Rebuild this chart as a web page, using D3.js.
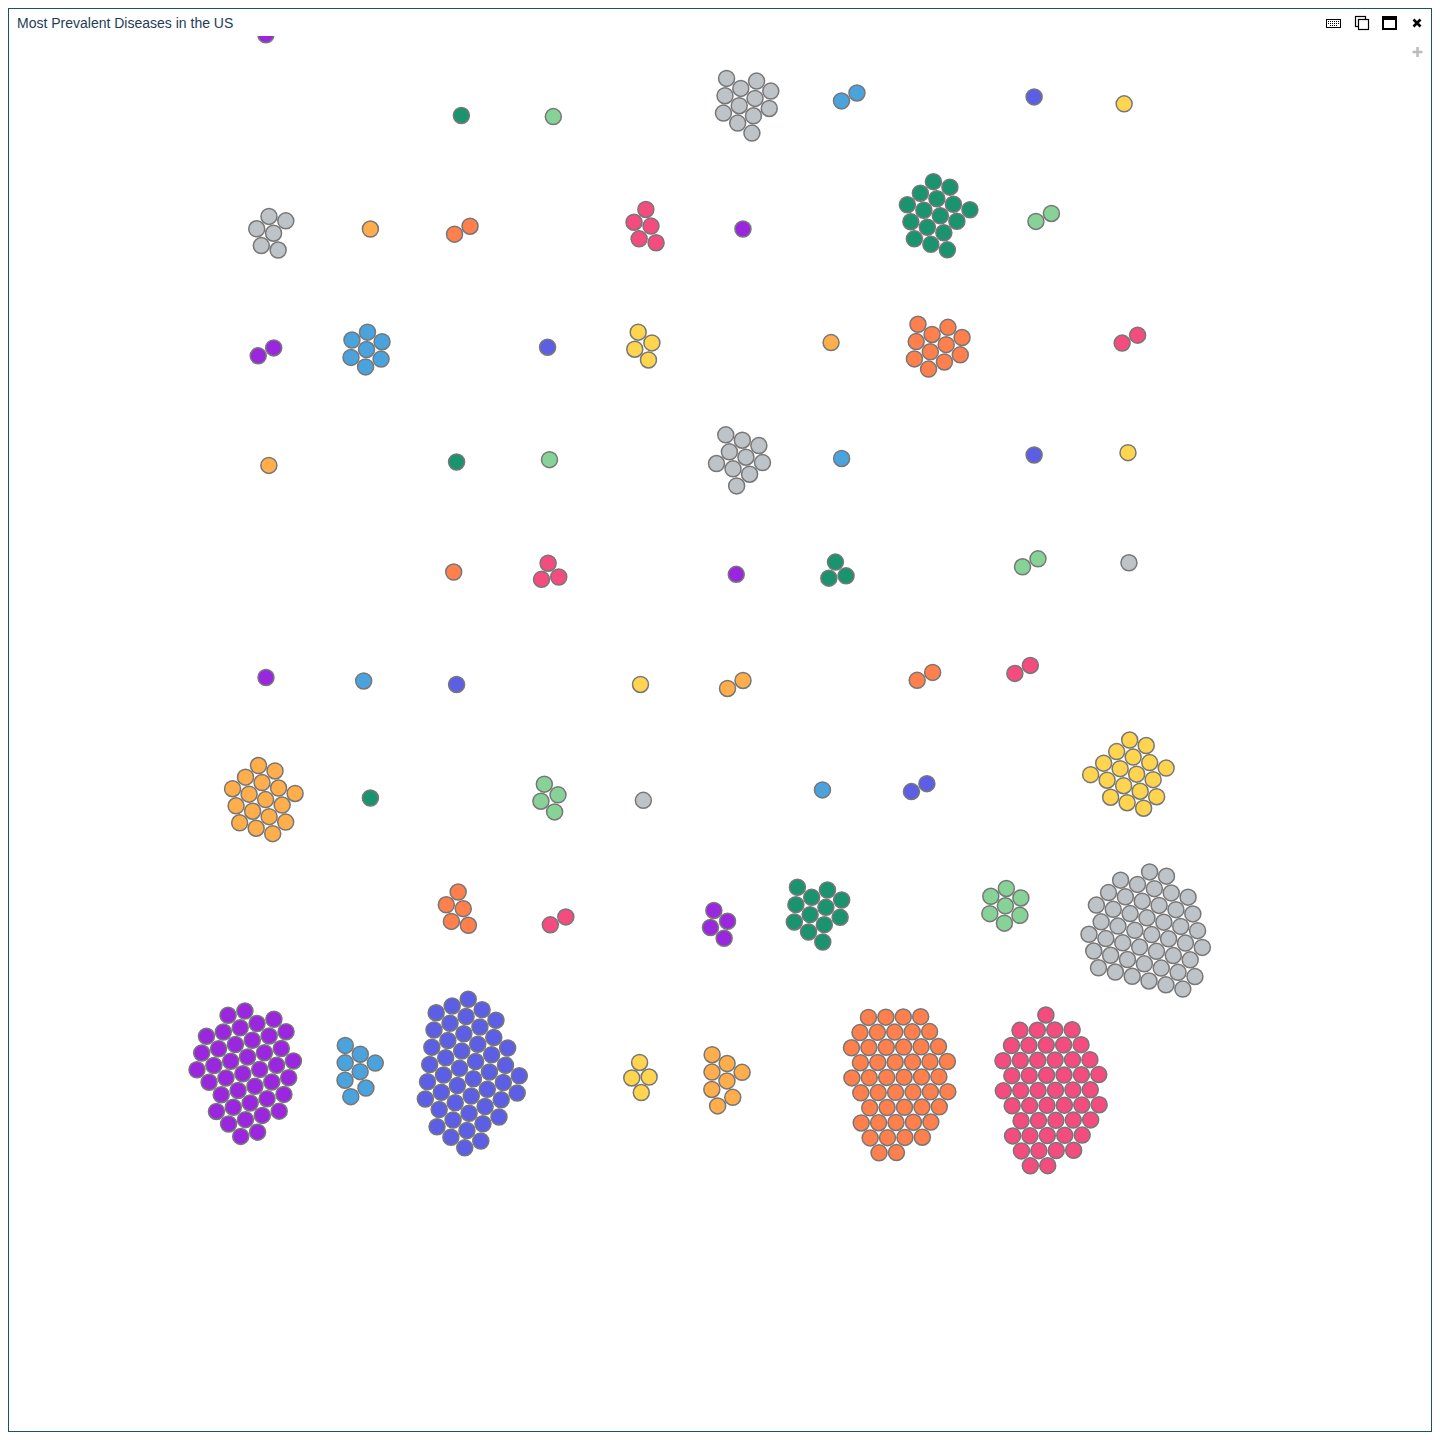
<!DOCTYPE html>
<html>
<head>
<meta charset="utf-8">
<script src="https://cdn.jsdelivr.net/npm/d3@7"></script>
<style>
  html, body { margin: 0; padding: 0; background: #fff; }
  svg { display: block; }
</style>
</head>
<body>
<svg id="chart" width="1440" height="1440"></svg>
<script>
// ---- data ----
const colorNames = ["grey", "darkGreen", "lightGreen", "orange", "pink", "purple", "blue", "indigo", "yellow", "lightOrange"];
const colorValues = ["#bdc3c7", "#1a936f", "#87d397", "#ff7f4d", "#f54c80", "#9b26e0", "#4ba3de", "#5c5fe6", "#ffd44f", "#ffae4b"];

// one entry per cluster (group of cases)
const clusterColor = [
  "purple",
  "darkGreen", "lightGreen", "grey", "blue", "indigo", "yellow",
  "grey", "lightOrange", "orange", "pink", "purple", "darkGreen", "lightGreen",
  "purple", "blue", "indigo", "yellow", "lightOrange", "orange", "pink",
  "lightOrange", "darkGreen", "lightGreen", "grey", "blue", "indigo", "yellow",
  "orange", "pink", "purple", "darkGreen", "lightGreen", "grey",
  "purple", "blue", "indigo", "yellow", "lightOrange", "orange", "pink",
  "lightOrange", "darkGreen", "lightGreen", "grey", "blue", "indigo", "yellow",
  "orange", "pink", "purple", "darkGreen", "lightGreen", "grey",
  "purple", "blue", "indigo", "yellow", "lightOrange", "orange", "pink"
];
const clusterCount = [
  2,
  1, 1, 12, 2, 1, 1,
  6, 1, 2, 5, 1, 16, 2,
  2, 7, 1, 4, 1, 11, 2,
  1, 1, 1, 10, 1, 1, 1,
  1, 3, 1, 3, 2, 1,
  1, 1, 1, 1, 2, 2, 2,
  17, 1, 4, 1, 1, 2, 18,
  5, 2, 4, 12, 7, 47,
  41, 8, 47, 4, 8, 49, 50
];
// focus position of each cluster in grid units (column, row)
const clusterCol = [
  0.09,
  2.05, 3.01, 5.02, 6.10, 8.03, 8.97,
  0.06, 1.10, 2.06, 3.97, 4.99, 7.00, 8.13,
  0.01, 1.06, 2.95, 3.95, 5.91, 7.01, 9.03,
  0.04, 2.00, 2.97, 4.96, 6.02, 8.03, 9.01,
  1.97, 2.97, 4.92, 5.97, 7.99, 9.02,
  0.01, 1.03, 2.00, 3.92, 4.91, 6.89, 7.91,
  -0.03, 1.10, 2.97, 3.95, 5.82, 6.83, 9.04,
  2.01, 3.06, 4.74, 5.76, 7.73, 9.21,
  -0.19, 0.95, 2.12, 3.92, 4.78, 6.61, 8.19
];
const clusterRow = [
  -0.01,
  0.72, 0.73, 0.61, 0.56, 0.56, 0.62,
  1.73, 1.70, 1.71, 1.69, 1.70, 1.58, 1.60,
  2.76, 2.74, 2.72, 2.71, 2.68, 2.71, 2.65,
  3.74, 3.71, 3.69, 3.68, 3.68, 3.65, 3.63,
  4.66, 4.67, 4.68, 4.66, 4.58, 4.58,
  5.57, 5.60, 5.63, 5.63, 5.63, 5.56, 5.50,
  6.63, 6.61, 6.61, 6.63, 6.54, 6.52, 6.41,
  7.58, 7.67, 7.70, 7.59, 7.54, 7.77,
  8.96, 8.96, 8.98, 9.02, 9.04, 9.04, 9.14
];

// ---- chart ----
const svg = d3.select("#chart");

// frame
svg.append("rect")
  .attr("x", 8.5).attr("y", 8.5).attr("width", 1423).attr("height", 1423)
  .attr("fill", "#fff").attr("stroke", "#1e4f6b").attr("stroke-width", 1);

const color = d3.scaleOrdinal().domain(colorNames).range(colorValues);
const x = d3.scaleLinear().domain([0, 9]).range([265, 1127]);
const y = d3.scaleLinear().domain([0, 9]).range([32, 1075]);

const defs = svg.append("defs");
defs.append("clipPath").attr("id", "plotClip")
  .append("rect").attr("x", 9).attr("y", 36).attr("width", 1422).attr("height", 1395);

// nodes
const nodes = [];
clusterCount.forEach((n, ci) => {
  const fx = x(clusterCol[ci]), fy = y(clusterRow[ci]);
  for (let k = 0; k < n; k++) {
    const a = k * Math.PI * (3 - Math.sqrt(5));
    const rr = 7 * Math.sqrt(k + 0.5);
    nodes.push({ cluster: ci, fx0: fx, fy0: fy, x: fx + rr * Math.cos(a), y: fy + rr * Math.sin(a) });
  }
});

const R = 8;
const lastRow = d3.max(clusterRow);
const isLast = d => clusterRow[d.cluster] > lastRow - 0.5;
const sim = d3.forceSimulation(nodes)
  .force("x", d3.forceX(d => d.fx0).strength(d => isLast(d) ? 0.09 : 0.07))
  .force("y", d3.forceY(d => d.fy0).strength(d => isLast(d) ? 0.03 : 0.07))
  .force("collide", d3.forceCollide(8.7).strength(0.8).iterations(2))
  .stop();
sim.tick(300);

const plot = svg.append("g").attr("clip-path", "url(#plotClip)");
plot.selectAll("circle")
  .data(nodes)
  .join("circle")
  .attr("cx", d => d.x)
  .attr("cy", d => d.y)
  .attr("r", R)
  .attr("fill", d => color(clusterColor[d.cluster]))
  .attr("stroke", "#777")
  .attr("stroke-width", 1.5);

// title
svg.append("text")
  .attr("x", 17).attr("y", 28)
  .attr("font-family", "Liberation Sans, Arial, sans-serif")
  .attr("font-size", 14)
  .attr("fill", "#1d3c5a")
  .text("Most Prevalent Diseases in the US");

// toolbar icons
const tb = svg.append("g");
// keyboard
tb.append("rect").attr("x", 1326.5).attr("y", 19.5).attr("width", 14).attr("height", 8)
  .attr("fill", "none").attr("stroke", "#000").attr("stroke-width", 1);
for (let row = 0; row < 3; row++) {
  for (let c = 0; c < 6; c++) {
    if (row === 2 && (c < 1 || c > 4)) continue;
    tb.append("rect").attr("x", 1328 + c * 2).attr("y", 21 + row * 2)
      .attr("width", 1).attr("height", 1).attr("fill", "#000");
  }
}
// copy
tb.append("rect").attr("x", 1355.5).attr("y", 16.5).attr("width", 10).attr("height", 10)
  .attr("fill", "#fff").attr("stroke", "#000").attr("stroke-width", 1.2);
tb.append("rect").attr("x", 1358.5).attr("y", 19.5).attr("width", 10).attr("height", 10)
  .attr("fill", "#fff").attr("stroke", "#000").attr("stroke-width", 1.2);
// maximize
tb.append("rect").attr("x", 1383).attr("y", 17).attr("width", 13).attr("height", 12)
  .attr("fill", "none").attr("stroke", "#000").attr("stroke-width", 2);
tb.append("rect").attr("x", 1383).attr("y", 17).attr("width", 13).attr("height", 3).attr("fill", "#000");
// close
tb.append("path").attr("d", "M1413.5,19.5L1420.5,26.5M1420.5,19.5L1413.5,26.5")
  .attr("stroke", "#000").attr("stroke-width", 2.6);
// plus
tb.append("path").attr("d", "M1417.5,47L1417.5,57M1412.5,52L1422.5,52")
  .attr("stroke", "#bbb").attr("stroke-width", 2.5);
</script>
</body>
</html>
